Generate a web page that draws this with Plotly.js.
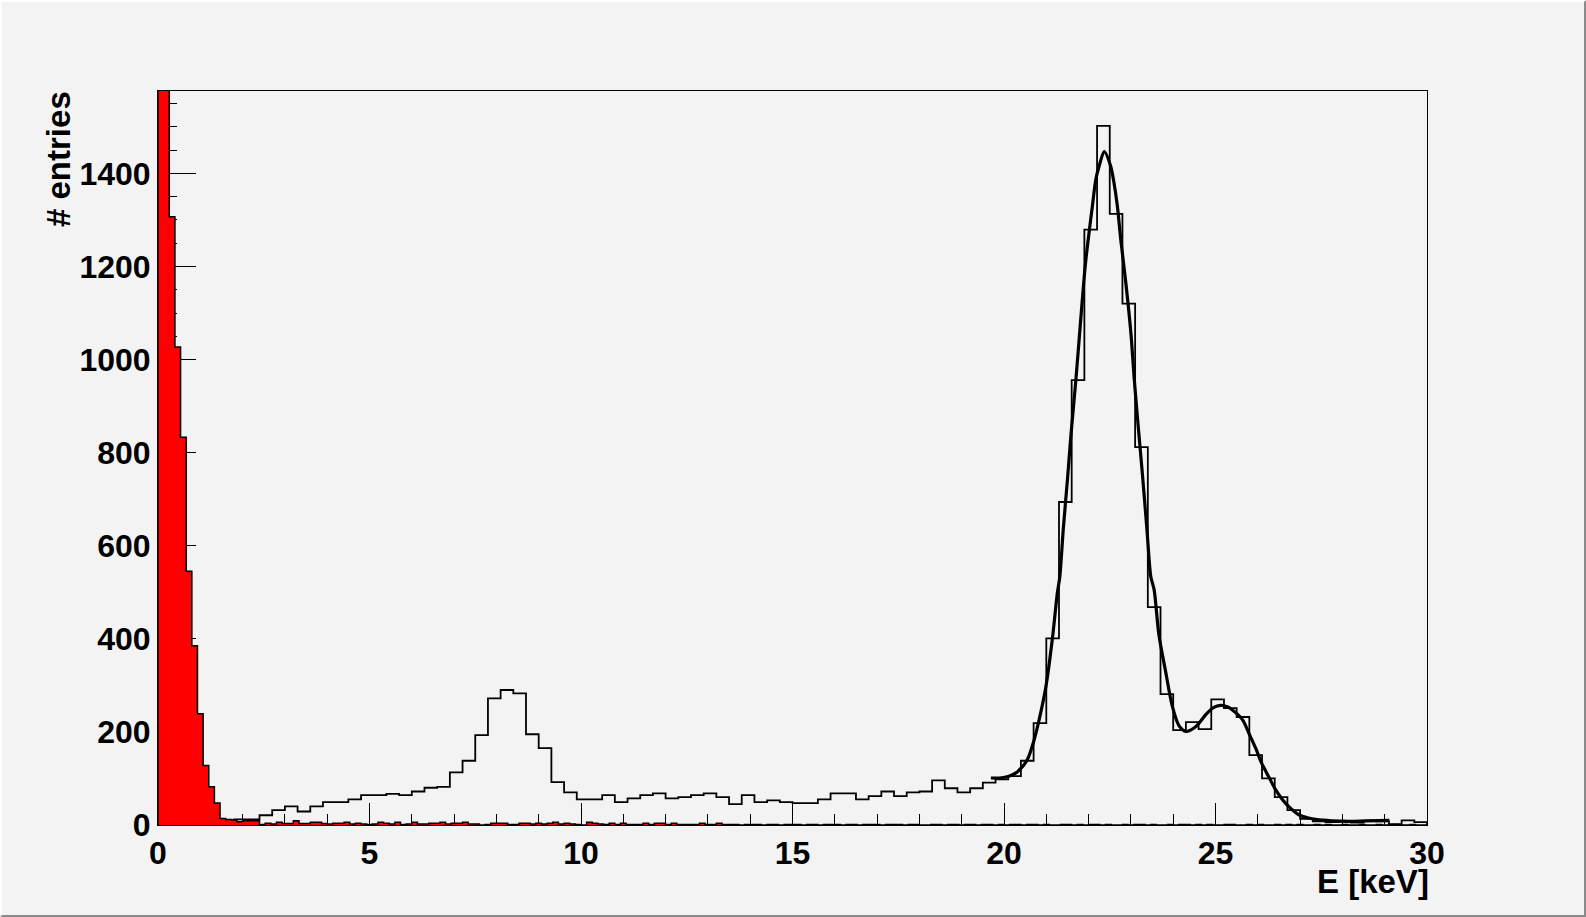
<!DOCTYPE html>
<html>
<head>
<meta charset="utf-8">
<script src="https://cdn.plot.ly/plotly-3.0.1.min.js"></script>
<style>
  html, body { margin: 0; padding: 0; background: #f3f3f3; }
  #wrap { position: relative; width: 1586px; height: 917px; }
  #chart { position: absolute; left: 0; top: 0; width: 1586px; height: 917px; }
  #border { position: absolute; left: 0; top: 0; width: 1582px; height: 913px;
            border-top: 2px solid #ffffff; border-left: 2px solid #ffffff;
            border-right: 2px solid #8a8a8a; border-bottom: 2px solid #8a8a8a; pointer-events: none; }
</style>
</head>
<body>
<div id="wrap"><div id="chart"></div><div id="border"></div></div>
<script>
// ---- data ----
// black histogram: 100 bins, 0.3 keV wide, 0..30 keV
const blackBinWidth = 0.3;
const blackCounts = [
  4, 6, 8, 9, 10, 11, 12, 12, 21, 32,
  40, 29, 40, 49, 49, 55, 64, 64, 67, 64,
  72, 80, 82, 113, 138, 193, 272, 290, 283, 195,
  165, 92, 70, 55, 55, 64, 49, 57, 64, 68,
  57, 60, 64, 68, 60, 45, 64, 49, 53, 49,
  47, 47, 55, 68, 68, 55, 62, 72, 62, 70,
  72, 96, 79, 70, 79, 91, 98, 105, 138, 219,
  401, 694, 956, 1279, 1502, 1313, 1120, 812, 468, 281,
  204, 221, 206, 270, 251, 232, 150, 100, 60, 32,
  13, 8, 6, 7, 5, 9, 8, 2, 10, 6
];
// red histogram: 225 bins, 2/15 keV wide, 0..30 keV
const redBinWidth = 30 / 225;
const redCounts = [
  1950, 1650, 1307, 1027, 833, 545, 385, 239, 128, 82,
  47, 14, 12, 11, 7, 9, 9, 9, 1, 4,
  2, 6, 3, 3, 9, 3, 3, 6, 6, 3,
  2, 4, 4, 6, 2, 4, 2, 1, 2, 6,
  4, 2, 6, 1, 2, 6, 2, 2, 4, 4,
  6, 2, 4, 4, 6, 2, 2, 0, 1, 4,
  4, 4, 1, 1, 4, 4, 2, 4, 2, 4,
  6, 2, 4, 2, 1, 0, 6, 4, 2, 1,
  4, 1, 4, 1, 1, 1, 4, 1, 4, 4,
  1, 4, 1, 1, 1, 1, 4, 1, 1, 4,
  1, 1, 1, 0, 1, 1, 1, 0, 1, 1,
  0, 1, 1, 1, 0, 1, 1, 0, 1, 1,
  1, 0, 1, 1, 0, 1, 1, 1, 0, 1,
  1, 1, 0, 1, 1, 0, 0, 1, 1, 0,
  1, 1, 0, 1, 1, 0, 1, 1, 0, 1,
  0, 1, 1, 0, 1, 1, 0, 1, 0, 0,
  1, 1, 0, 1, 0, 1, 1, 0, 1, 0,
  0, 1, 0, 1, 1, 0, 1, 0, 0, 1,
  0, 1, 1, 0, 1, 0, 1, 0, 0, 1,
  1, 0, 0, 1, 0, 1, 0, 0, 1, 0,
  1, 0, 1, 0, 0, 1, 0, 1, 0, 0,
  1, 0, 0, 1, 0, 0, 1, 0, 0, 1,
  0, 0, 1, 0, 0
];
// fit curve
const fitE = [19.69, 19.9, 20.1, 20.3, 20.45, 20.55, 20.70, 20.83, 20.99, 21.15,
  21.26, 21.32, 21.40, 21.50, 21.58, 21.70, 21.80, 21.92, 22.01, 22.09,
  22.17, 22.25, 22.37, 22.52, 22.60, 22.68, 22.76, 22.88, 23.00, 23.08,
  23.18, 23.27, 23.38, 23.47, 23.55, 23.66, 23.82, 23.98, 24.14, 24.30,
  24.53, 24.77, 24.95, 25.12, 25.28, 25.40, 25.64, 25.80, 25.95, 26.08,
  26.25, 26.42, 26.58, 26.74, 26.97, 27.2, 27.37, 27.75, 28.2, 28.55, 29.11];
const fitV = [101, 101, 104, 113, 127, 140, 179, 226, 297, 405,
  498, 534, 634, 742, 835, 957, 1070, 1201, 1272, 1330,
  1387, 1416, 1447, 1416, 1380, 1330, 1258, 1165, 1057, 957,
  849, 756, 634, 534, 505, 410, 330, 255, 213, 201,
  211, 237, 252, 257, 254, 247, 226, 195, 165, 135,
  105, 76, 55, 39, 22, 15, 12, 9, 8, 9, 10];
const xTitle = "E [keV]";
const yTitle = "# entries";

// ---- build step paths from bins ----
function stepPath(counts, w) {
  const x = [0], y = [0];
  for (let i = 0; i < counts.length; i++) { x.push(i * w); y.push(counts[i]); }
  x.push(counts.length * w); y.push(0);
  return {x, y};
}
const bp = stepPath(blackCounts, blackBinWidth);
const rp = stepPath(redCounts, redBinWidth);

const FONT = "Liberation Sans, Arial, Helvetica, sans-serif";
const traces = [
  {x: bp.x, y: bp.y, type: 'scatter', mode: 'lines', line: {shape: 'hv', color: '#000', width: 1.8}, hoverinfo: 'skip'},
  {x: rp.x, y: rp.y, type: 'scatter', mode: 'lines', fill: 'tozeroy', fillcolor: '#ff0000',
   line: {shape: 'hv', color: '#000', width: 1.5}, hoverinfo: 'skip'},
  {x: fitE, y: fitV, type: 'scatter', mode: 'lines', line: {shape: 'spline', smoothing: 0.8, color: '#000', width: 3.2}, hoverinfo: 'skip'}
];
const axisCommon = {
  showgrid: false, zeroline: false, showline: true, linecolor: '#000', linewidth: 1, mirror: true,
  ticks: 'inside', tickcolor: '#000', tickwidth: 1, layer: 'below traces',
  tickfont: {family: FONT, size: 32, color: '#000', weight: 'bold'}
};
const layout = {
  width: 1586, height: 917,
  margin: {l: 158, r: 159, t: 91, b: 92, pad: 0},
  paper_bgcolor: '#f3f3f3', plot_bgcolor: '#f3f3f3',
  showlegend: false,
  xaxis: Object.assign({}, axisCommon, {range: [0, 30], tick0: 0, dtick: 5, ticklen: 22,
    minor: {dtick: 1, tick0: 0, ticklen: 11, ticks: 'inside', tickcolor: '#000', tickwidth: 1}}),
  yaxis: Object.assign({}, axisCommon, {range: [0, 1577], tick0: 0, dtick: 200, ticklen: 38,
    minor: {dtick: 50, tick0: 0, ticklen: 19, ticks: 'inside', tickcolor: '#000', tickwidth: 1}}),
  annotations: [
    {text: xTitle, xref: 'paper', yref: 'paper', x: 1, y: 0, xanchor: 'right', yanchor: 'top',
     xshift: 4, yshift: -36, showarrow: false, font: {family: FONT, size: 33, color: '#000', weight: 'bold'}},
    {text: yTitle, xref: 'paper', yref: 'paper', x: 0, y: 1, xanchor: 'center', yanchor: 'top',
     xshift: -100, yshift: 2, textangle: -90, showarrow: false, font: {family: FONT, size: 33, color: '#000', weight: 'bold'}}
  ]
};
Plotly.newPlot('chart', traces, layout, {displayModeBar: false, staticPlot: true});
</script>
</body>
</html>
